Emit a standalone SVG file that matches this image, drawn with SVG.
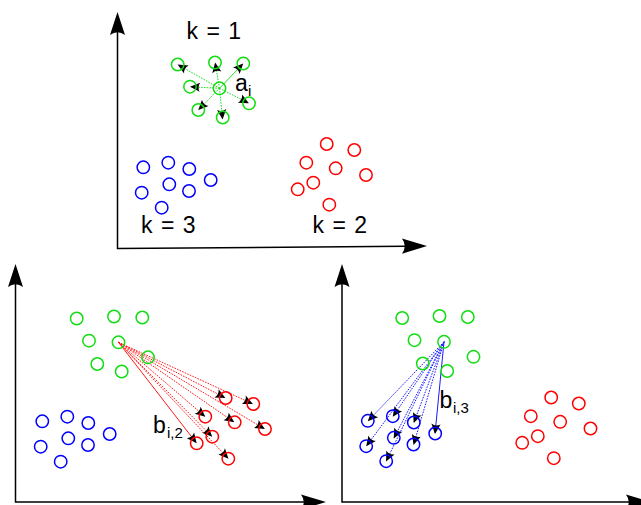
<svg xmlns="http://www.w3.org/2000/svg" width="641" height="505" viewBox="0 0 641 505">
<style>
.g{fill:none;stroke:#11dd11;stroke-width:1.5}
.b{fill:none;stroke:#0000ff;stroke-width:1.5}
.r{fill:none;stroke:#ff0000;stroke-width:1.5}
.ax{fill:none;stroke:#000;stroke-width:1.5}
.ah{fill:#000;stroke:none}
.lg{stroke:#22dd22;stroke-width:1;fill:none;marker-end:url(#arr)}
.lr{stroke:#ff1a1a;stroke-width:1;fill:none;marker-end:url(#arr)}
.lb{stroke:#1a1aff;stroke-width:1;fill:none;marker-end:url(#arr)}
.dot{stroke-dasharray:1.6,1.2}
text{font-family:"Liberation Sans",Arial,sans-serif;fill:#000}
.big{font-size:23px;word-spacing:2px}
.sub{font-size:15px}
</style>
<defs>
<marker id="arr" markerUnits="userSpaceOnUse" markerWidth="12" markerHeight="10" refX="0" refY="0" orient="auto" style="overflow:visible">
<path d="M1,0 L-9,-4.6 Q-6,0 -9,4.6 Z" fill="#000"/>
</marker>
<g id="gclust">
<circle cx="177.7" cy="64.5" r="6.2"/>
<circle cx="215" cy="62.5" r="6.2"/>
<circle cx="243.3" cy="63.5" r="6.2"/>
<circle cx="190" cy="86.7" r="6.2"/>
<circle cx="219.5" cy="88.3" r="6.2"/>
<circle cx="249" cy="103.3" r="6.2"/>
<circle cx="198.3" cy="110" r="6.2"/>
<circle cx="222.7" cy="117.5" r="6.2"/>
</g>
</defs>

<g id="axes">
<path class="ax" d="M117.5,30 L117.5,248.5 L405,246.2"/>
<path class="ah" d="M117.5,12 L125,35 Q117.5,29.5 110,35 Z"/>
<path class="ah" d="M427,246 L402,238.5 Q407.5,246 402,253.8 Z"/>
<path class="ax" d="M15.5,283 L15.5,502 L305,502"/>
<path class="ah" d="M15.5,264 L23,287 Q15.5,281.5 8,287 Z"/>
<path class="ah" d="M326,502 L301,494.5 Q306.5,502 301,509.5 Z"/>
<path class="ax" d="M342,283 L342,502 L630,502"/>
<path class="ah" d="M342,264 L349.5,287 Q342,281.5 334.5,287 Z"/>
<path class="ah" d="M651,502 L626,494.5 Q631.5,502 626,509.5 Z"/>
</g>

<g id="connectors">
<g id="conn-top">
<line class="lg dot" x1="219.5" y1="88.3" x2="178.5" y2="65"/>
<line class="lg dot" x1="219.5" y1="88.3" x2="215.3" y2="63.5"/>
<line class="lg" x1="219.5" y1="88.3" x2="242.5" y2="64.3"/>
<line class="lg dot" x1="219.5" y1="88.3" x2="191" y2="86.8"/>
<line class="lg dot" x1="219.5" y1="88.3" x2="248" y2="102.8"/>
<line class="lg dot" x1="219.5" y1="88.3" x2="199" y2="109.3"/>
<line class="lg dot" x1="219.5" y1="88.3" x2="222.5" y2="118.5"/>
</g>
<g id="conn-red" transform="translate(-101,254)">
<line class="lr dot" x1="219.5" y1="88.3" x2="325.5" y2="143.5"/>
<line class="lr dot" x1="219.5" y1="88.3" x2="353" y2="149.5"/>
<line class="lr dot" x1="219.5" y1="88.3" x2="305.5" y2="162"/>
<line class="lr dot" x1="219.5" y1="88.3" x2="334.5" y2="167.7"/>
<line class="lr dot" x1="219.5" y1="88.3" x2="365" y2="174.5"/>
<line class="lr dot" x1="219.5" y1="88.3" x2="312.5" y2="182"/>
<line class="lr" x1="219.5" y1="88.3" x2="297" y2="188.5"/>
<line class="lr dot" x1="219.5" y1="88.3" x2="328.8" y2="204"/>
</g>
<g id="conn-blue" transform="translate(224.5,253.5)">
<line class="lb dot" x1="219.5" y1="88.3" x2="144" y2="167"/>
<line class="lb dot" x1="219.5" y1="88.3" x2="168.8" y2="162.5"/>
<line class="lb dot" x1="219.5" y1="88.3" x2="189.6" y2="168.5"/>
<line class="lb" x1="219.5" y1="88.3" x2="210.6" y2="179.5"/>
<line class="lb dot" x1="219.5" y1="88.3" x2="169.7" y2="184"/>
<line class="lb dot" x1="219.5" y1="88.3" x2="142.3" y2="192"/>
<line class="lb dot" x1="219.5" y1="88.3" x2="189.3" y2="190.5"/>
<line class="lb dot" x1="219.5" y1="88.3" x2="162" y2="207"/>
</g>
</g>

<g id="panel-top">
<g id="top-green" class="g"><use href="#gclust"/></g>
<g id="top-blue" class="b">
<circle cx="143.3" cy="167.3" r="6.2"/>
<circle cx="168.3" cy="162.7" r="6.2"/>
<circle cx="189.3" cy="169" r="6.2"/>
<circle cx="210.7" cy="180" r="6.2"/>
<circle cx="169.3" cy="184.3" r="6.2"/>
<circle cx="141.7" cy="192.7" r="6.2"/>
<circle cx="189" cy="191" r="6.2"/>
<circle cx="161.7" cy="207.7" r="6.2"/>
</g>
<g id="top-red" class="r">
<circle cx="326.7" cy="144" r="6.2"/>
<circle cx="354.3" cy="150" r="6.2"/>
<circle cx="306.3" cy="162.7" r="6.2"/>
<circle cx="335.7" cy="168.3" r="6.2"/>
<circle cx="366" cy="175" r="6.2"/>
<circle cx="313.3" cy="182.7" r="6.2"/>
<circle cx="297.7" cy="189.3" r="6.2"/>
<circle cx="329.3" cy="204.7" r="6.2"/>
</g>
</g>

<g id="panel-left" transform="translate(-101,254)">
<g id="left-green" class="g"><use href="#gclust"/></g>
<g id="left-blue" class="b">
<circle cx="143.3" cy="167.3" r="6.2"/>
<circle cx="168.3" cy="162.7" r="6.2"/>
<circle cx="189.3" cy="169" r="6.2"/>
<circle cx="210.7" cy="180" r="6.2"/>
<circle cx="169.3" cy="184.3" r="6.2"/>
<circle cx="141.7" cy="192.7" r="6.2"/>
<circle cx="189" cy="191" r="6.2"/>
<circle cx="161.7" cy="207.7" r="6.2"/>
</g>
<g id="left-red" class="r">
<circle cx="326.7" cy="144" r="6.2"/>
<circle cx="354.3" cy="150" r="6.2"/>
<circle cx="306.3" cy="162.7" r="6.2"/>
<circle cx="335.7" cy="168.3" r="6.2"/>
<circle cx="366" cy="175" r="6.2"/>
<circle cx="313.3" cy="182.7" r="6.2"/>
<circle cx="297.7" cy="189.3" r="6.2"/>
<circle cx="329.3" cy="204.7" r="6.2"/>
</g>
</g>

<g id="panel-right" transform="translate(224.5,253.5)">
<g id="right-green" class="g"><use href="#gclust"/></g>
<g id="right-blue" class="b">
<circle cx="143.3" cy="167.3" r="6.2"/>
<circle cx="168.3" cy="162.7" r="6.2"/>
<circle cx="189.3" cy="169" r="6.2"/>
<circle cx="210.7" cy="180" r="6.2"/>
<circle cx="169.3" cy="184.3" r="6.2"/>
<circle cx="141.7" cy="192.7" r="6.2"/>
<circle cx="189" cy="191" r="6.2"/>
<circle cx="161.7" cy="207.7" r="6.2"/>
</g>
<g id="right-red" class="r">
<circle cx="326.7" cy="144" r="6.2"/>
<circle cx="354.3" cy="150" r="6.2"/>
<circle cx="306.3" cy="162.7" r="6.2"/>
<circle cx="335.7" cy="168.3" r="6.2"/>
<circle cx="366" cy="175" r="6.2"/>
<circle cx="313.3" cy="182.7" r="6.2"/>
<circle cx="297.7" cy="189.3" r="6.2"/>
<circle cx="329.3" cy="204.7" r="6.2"/>
</g>
</g>

<g id="labels">
<text class="big" x="186.5" y="38.5">k = 1</text>
<text class="big" x="141" y="233.3">k = 3</text>
<text class="big" x="312.5" y="233.3">k = 2</text>
<text class="big" x="235" y="90.5">a<tspan class="sub" x="248" y="95.5" font-size="14">i</tspan></text>
<text class="big" x="153" y="432.7">b<tspan class="sub" x="167" y="437.8">i,2</tspan></text>
<text class="big" x="439.5" y="407.5">b<tspan class="sub" x="453" y="412.5">i,3</tspan></text>
</g>
</svg>
